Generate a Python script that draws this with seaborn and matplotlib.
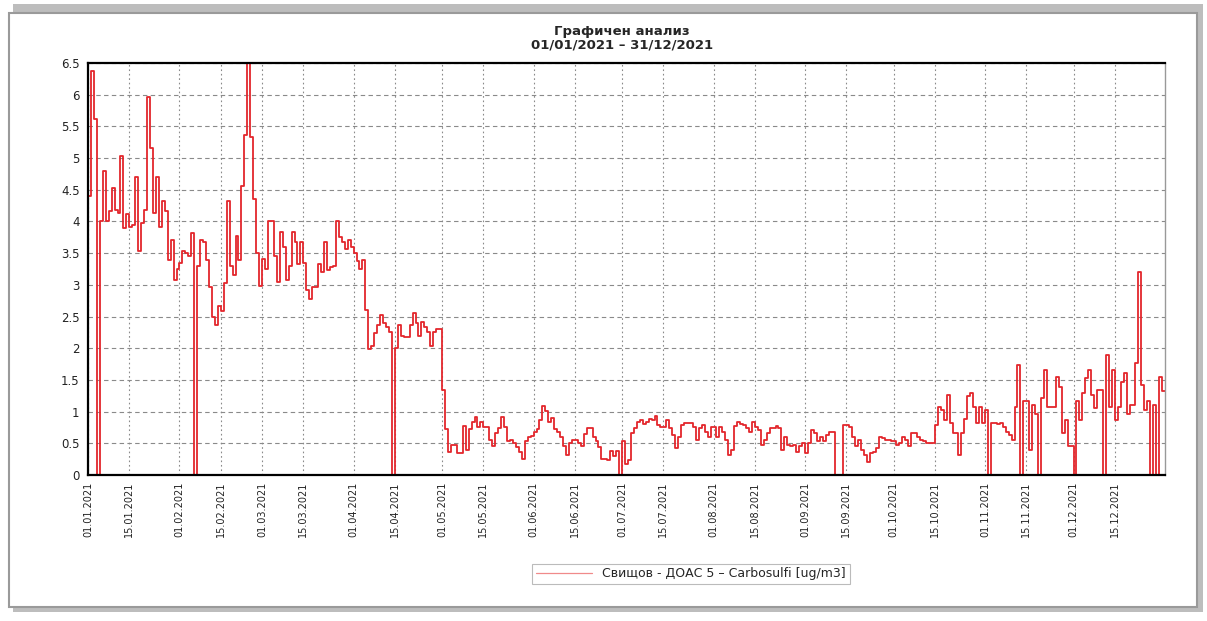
import matplotlib
matplotlib.use("Agg")
import matplotlib.pyplot as plt
import matplotlib.dates as mdates
import matplotlib.patches as patches
import numpy as np
import pandas as pd
import seaborn as sns

# daily values (ug/m3)
jan = [4.4, 6.37, 5.62, 0, 4.0, 4.79, 4.0, 4.16, 4.53, 4.18, 4.13, 5.04, 3.9, 4.12,
       3.92, 3.94, 4.7, 3.54, 3.98, 4.18, 5.96, 5.16, 4.13, 4.7, 3.92, 4.32, 4.16,
       3.39, 3.7, 3.08, 3.25]
feb = [3.34, 3.53, 3.5, 3.45, 3.82, 0, 3.29, 3.71, 3.68, 3.39, 2.97, 2.5, 2.37, 2.67,
       2.58, 3.03, 4.32, 3.29, 3.16, 3.77, 3.39, 4.56, 5.37, 7.2, 5.34, 4.35, 3.51, 2.98]
mar = [3.4, 3.25, 4.0, 4.0, 3.45, 3.04, 3.84, 3.6, 3.08, 3.29, 3.84, 3.68, 3.33, 3.68,
       3.34, 2.92, 2.77, 2.96, 2.96, 3.33, 3.21, 3.67, 3.23, 3.28, 3.29, 4.0, 3.75,
       3.68, 3.56, 3.71, 3.6]
apr = [3.5, 3.37, 3.25, 3.39, 2.6, 1.98, 2.03, 2.24, 2.37, 2.53, 2.4, 2.34, 2.26, 0,
       2.0, 2.37, 2.2, 2.18, 2.18, 2.37, 2.55, 2.4, 2.2, 2.42, 2.34, 2.26, 2.03, 2.26,
       2.3, 2.3]
may = [1.34, 0.72, 0.37, 0.48, 0.48, 0.34, 0.34, 0.77, 0.4, 0.72, 0.84, 0.91, 0.76,
       0.84, 0.75, 0.75, 0.55, 0.45, 0.67, 0.74, 0.91, 0.75, 0.53, 0.55, 0.5, 0.44,
       0.37, 0.26, 0.53, 0.6, 0.62]
jun = [0.68, 0.72, 0.87, 1.09, 1.01, 0.84, 0.9, 0.72, 0.68, 0.6, 0.46, 0.32, 0.5, 0.55,
       0.56, 0.51, 0.46, 0.65, 0.74, 0.74, 0.6, 0.53, 0.44, 0.26, 0.26, 0.24, 0.38,
       0.3, 0.38, 0]
jul = [0.53, 0.18, 0.24, 0.66, 0.74, 0.84, 0.87, 0.81, 0.84, 0.88, 0.86, 0.93, 0.79,
       0.76, 0.76, 0.87, 0.74, 0.63, 0.42, 0.6, 0.79, 0.82, 0.82, 0.82, 0.76, 0.55,
       0.74, 0.79, 0.68, 0.6, 0.76]
aug = [0.76, 0.6, 0.76, 0.68, 0.55, 0.32, 0.4, 0.77, 0.84, 0.81, 0.79, 0.74, 0.68,
       0.84, 0.76, 0.71, 0.47, 0.55, 0.66, 0.74, 0.74, 0.77, 0.74, 0.4, 0.6, 0.47,
       0.45, 0.47, 0.37, 0.45, 0.5]
sep = [0.34, 0.5, 0.71, 0.66, 0.53, 0.6, 0.53, 0.63, 0.68, 0.68, 0, 0, 0, 0.79,
       0.79, 0.75, 0.6, 0.45, 0.55, 0.4, 0.32, 0.21, 0.34, 0.37, 0.42, 0.6, 0.58,
       0.55, 0.55, 0.53]
oct_ = [0.53, 0.47, 0.5, 0.6, 0.55, 0.45, 0.66, 0.66, 0.6, 0.55, 0.53, 0.5, 0.5, 0.5,
        0.79, 1.08, 1.03, 0.87, 1.26, 0.82, 0.66, 0.66, 0.32, 0.66, 0.89, 1.24, 1.29,
        1.08, 0.82, 1.08, 0.82]
nov = [1.03, 0, 0.82, 0.82, 0.8, 0.82, 0.76, 0.68, 0.63, 0.55, 1.08, 1.74, 0, 1.16,
       1.16, 0.39, 1.1, 0.97, 0, 1.21, 1.66, 1.08, 1.08, 1.08, 1.55, 1.39, 0.66, 0.87,
       0.45, 0.45]
dec = [0, 1.16, 0.87, 1.29, 1.53, 1.66, 1.26, 1.05, 1.34, 1.34, 0, 1.89, 1.08, 1.65,
       0.87, 1.08, 1.47, 1.61, 0.97, 1.1, 1.1, 1.76, 3.21, 1.42, 1.03, 1.16, 0, 1.1,
       0, 1.55, 1.32]

title = "Графичен анализ\n01/01/2021 – 31/12/2021"
series_label = "Свищов - ДОАС 5 – Carbosulfi [ug/m3]"
y_ticks = np.arange(0, 6.51, 0.5)
# date ticks: 1st and 15th of every month
x_ticks = pd.date_range("2021-01-01", "2021-12-15", freq="SMS")


def build_frame():
    values = jan + feb + mar + apr + may + jun + jul + aug + sep + oct_ + nov + dec
    dates = pd.date_range("2021-01-01", periods=len(values), freq="D")
    df = pd.DataFrame({"date": dates, "value": values})
    # close the last daily step at the end of the year
    tail = pd.DataFrame({"date": [dates[-1] + pd.Timedelta(days=1)], "value": [values[-1]]})
    return pd.concat([df, tail], ignore_index=True)


def fmt_y(v, _):
    return f"{v:g}"


def get_plot():
    sns.set_style("white")
    plt.rcParams["font.family"] = ["DejaVu Sans"]

    W, H = 1207, 621
    fig = plt.figure(figsize=(W / 100, H / 100), dpi=100)

    # outer panel, shadow showing along the top and right edge
    fig.patches.append(patches.Rectangle((13 / W, 9 / H), 1190 / W, 608 / H,
                                         transform=fig.transFigure, facecolor="#bdbdbd",
                                         edgecolor="none", zorder=0))
    fig.patches.append(patches.Rectangle((9 / W, 14 / H), 1188 / W, 594 / H,
                                         transform=fig.transFigure, facecolor="white",
                                         edgecolor="#9a9a9a", linewidth=1.5, zorder=1))

    ax = fig.add_axes([88 / W, 1 - 475 / H, (1165 - 88) / W, (475 - 63) / H])
    ax.set_zorder(2)

    df = build_frame()
    sns.lineplot(data=df, x="date", y="value", ax=ax, estimator=None,
                 drawstyle="steps-post", color="#e3262c", linewidth=1.3,
                 label=series_label, legend=False)

    ax.set_xlim(pd.Timestamp("2021-01-01"), pd.Timestamp("2022-01-01"))
    ax.set_ylim(0, 6.5)
    ax.set_yticks(y_ticks)
    ax.yaxis.set_major_formatter(plt.FuncFormatter(fmt_y))
    ax.set_xticks(x_ticks)
    ax.xaxis.set_major_formatter(mdates.DateFormatter("%d.%m.%Y"))
    ax.set_xlabel("")
    ax.set_ylabel("")

    ax.tick_params(axis="x", labelrotation=90, labelsize=7, length=3, color="#444",
                   labelcolor="#222", pad=2)
    ax.tick_params(axis="y", labelsize=8.5, length=3, color="#444", labelcolor="#222", pad=3)

    ax.grid(axis="y", color="#8a8a8a", linestyle=(0, (4, 3)), linewidth=0.8)
    ax.grid(axis="x", color="#8a8a8a", linestyle=(0, (1.5, 2.5)), linewidth=0.8)

    for side in ["left", "bottom", "top"]:
        ax.spines[side].set_color("black")
        ax.spines[side].set_linewidth(1.6)
    ax.spines["right"].set_color("#999")
    ax.spines["right"].set_linewidth(1)

    fig.text(622 / W, 1 - 38 / H, title, ha="center", va="center", fontsize=9.5,
             fontweight="bold", linespacing=1.1, zorder=3)

    leg = fig.legend(loc="center", bbox_to_anchor=(691 / W, 1 - 574 / H), frameon=True,
                     fancybox=False, fontsize=9, handlelength=4.5, borderpad=0.3,
                     handletextpad=0.8, edgecolor="#aaa")
    leg.get_frame().set_linewidth(0.8)
    for line in leg.get_lines():
        line.set_linewidth(0.9)
        line.set_color("#f08a8a")

    fig.savefig("out.png", dpi=100, facecolor="white")


if __name__ == "__main__":
    get_plot()
